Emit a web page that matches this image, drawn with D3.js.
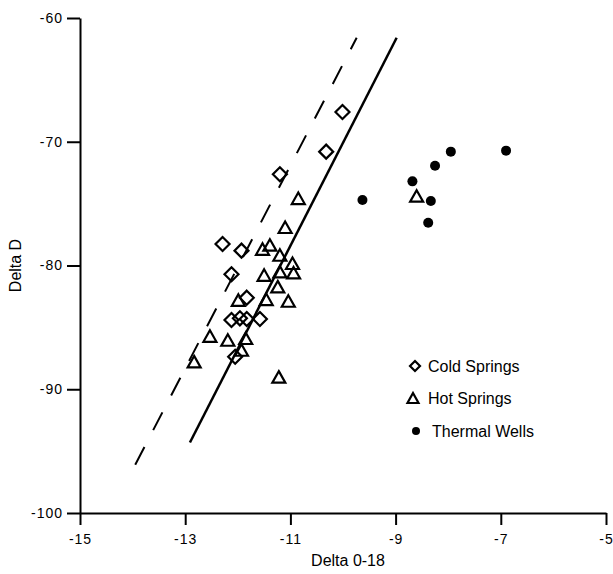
<!DOCTYPE html>
<meta charset="utf-8">
<style>
body { margin: 0; background: #fff; }
text { font-family: "Liberation Sans", Arial, Helvetica, sans-serif; fill: #000; }
.axis path, .axis line { stroke: #000; stroke-width: 2px; }
.axis text { font-size: 14px; letter-spacing: 1px; }
.fit { fill: none; stroke: #000; stroke-width: 2.5px; }
.mark { fill: none; stroke: #000; stroke-width: 2.2px; }
.well { fill: #000; }
</style>

<svg id="chart" width="613" height="574"></svg>

<script src="https://cdn.jsdelivr.net/npm/d3@7"></script>
<script>
// series names, in legend order
var seriesNames = ["Cold Springs", "Hot Springs", "Thermal Wells"];

// [delta O-18, delta D]
var coldSprings = [
  [-10.01, -67.6], [-10.32, -70.8], [-11.2, -72.63], [-12.29, -78.26],
  [-11.93, -78.8], [-12.12, -80.71], [-11.83, -82.6], [-12.12, -84.4],
  [-11.96, -84.27], [-11.83, -84.32], [-11.58, -84.32], [-12.05, -87.37]
];
var hotSprings = [
  [-11.1, -76.91], [-11.53, -78.67], [-11.39, -78.34], [-11.2, -79.15],
  [-10.96, -79.82], [-10.94, -80.58], [-11.2, -80.5], [-11.5, -80.77],
  [-11.24, -81.71], [-11.99, -82.79], [-11.46, -82.73], [-11.04, -82.87],
  [-12.53, -85.7], [-12.19, -86.02], [-11.85, -85.88], [-11.93, -86.83],
  [-12.83, -87.77], [-10.85, -74.57], [-8.6, -74.38], [-11.22, -89.0]
];
var thermalWells = [
  [-7.95, -70.8], [-6.9, -70.72], [-8.25, -71.94], [-8.68, -73.2],
  [-9.63, -74.71], [-8.33, -74.79], [-8.38, -76.54]
];

// end points of the two reference lines
var solidLine = [[-12.91, -94.3], [-8.98, -61.6]];
var dashedLine = [[-13.95, -96.1], [-9.74, -61.6]];

var xTicks = [-15, -13, -11, -9, -7, -5];
var yTicks = [-60, -70, -80, -90, -100];

var svg = d3.select("#chart"),
    plotLeft = 80, plotRight = 606, plotTop = 18, plotBottom = 513;

var x = d3.scaleLinear().domain([-15, -5]).range([plotLeft, plotRight]),
    y = d3.scaleLinear().domain([-100, -60]).range([plotBottom, plotTop]);

svg.append("g")
    .attr("class", "axis axis--x")
    .attr("transform", "translate(0," + plotBottom + ")")
    .call(d3.axisBottom(x).tickValues(xTicks).tickSize(12).tickSizeOuter(0).tickPadding(9)
      .tickFormat(function(d) { return String(d); }));

svg.append("g")
    .attr("class", "axis axis--y")
    .attr("transform", "translate(" + plotLeft + ",0)")
    .call(d3.axisLeft(y).tickValues(yTicks).tickSize(13).tickSizeOuter(0).tickPadding(4)
      .tickFormat(function(d) { return String(d); }));

svg.selectAll(".axis text").style("font-family", "'Liberation Sans', Arial, sans-serif");

svg.append("text")
    .attr("x", (plotLeft + plotRight) / 2 + 5)
    .attr("y", 566)
    .attr("text-anchor", "middle")
    .style("font-size", "16px")
    .text("Delta 0-18");

svg.append("text")
    .attr("transform", "translate(21," + ((plotTop + plotBottom) / 2) + ") rotate(-90)")
    .attr("text-anchor", "middle")
    .style("font-size", "16px")
    .text("Delta D");

var line = d3.line()
    .x(function(d) { return x(d[0]); })
    .y(function(d) { return y(d[1]); });

svg.append("path")
    .datum(dashedLine)
    .attr("class", "fit")
    .attr("stroke-dasharray", "20,19")
    .style("stroke-width", "2px")
    .attr("d", line);

svg.append("path")
    .datum(solidLine)
    .attr("class", "fit")
    .attr("d", line);

// marker shapes, centred on their box
function diamond(r) {
  return "M0," + (-r) + "L" + r + ",0L0," + r + "L" + (-r) + ",0Z";
}
function triangle(w, h) {
  return "M0," + (-h / 2) + "L" + (w / 2) + "," + (h / 2) + "L" + (-w / 2) + "," + (h / 2) + "Z";
}

svg.append("g").selectAll("path")
    .data(coldSprings)
    .enter().append("path")
      .attr("class", "mark")
      .attr("transform", function(d) { return "translate(" + x(d[0]) + "," + y(d[1]) + ")"; })
      .attr("d", diamond(7));

svg.append("g").selectAll("path")
    .data(hotSprings)
    .enter().append("path")
      .attr("class", "mark")
      .attr("transform", function(d) { return "translate(" + x(d[0]) + "," + y(d[1]) + ")"; })
      .attr("d", triangle(13, 11.5));

svg.append("g").selectAll("circle")
    .data(thermalWells)
    .enter().append("circle")
      .attr("class", "well")
      .attr("cx", function(d) { return x(d[0]); })
      .attr("cy", function(d) { return y(d[1]); })
      .attr("r", 5);

// legend
var legendY = [366, 398, 431];
var legend = svg.append("g").selectAll("g")
    .data(seriesNames)
    .enter().append("g")
      .attr("transform", function(d, i) { return "translate(415," + legendY[i] + ")"; });

legend.each(function(d, i) {
  var g = d3.select(this);
  if (i == 0) g.append("path").attr("class", "mark").attr("d", diamond(5));
  if (i == 1) g.append("path").attr("class", "mark").attr("d", triangle(11, 10)).attr("transform", "translate(-2,0)");
  if (i == 2) g.append("circle").attr("class", "well").attr("r", 4).attr("cx", 1);
});

legend.append("text")
    .attr("x", function(d, i) { return i == 2 ? 17 : 13; })
    .attr("dy", "0.35em")
    .style("font-size", "16px")
    .text(function(d) { return d; });
</script>
